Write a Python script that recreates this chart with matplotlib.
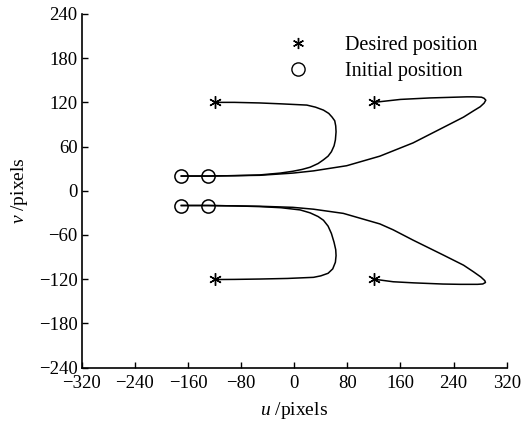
import matplotlib
matplotlib.use("Agg")
import matplotlib.pyplot as plt
from matplotlib.lines import Line2D

plt.rcParams["font.family"] = "Liberation Serif"
plt.rcParams["mathtext.fontset"] = "custom"
plt.rcParams["mathtext.rm"] = "Liberation Serif"
plt.rcParams["mathtext.it"] = "Liberation Serif:italic"
plt.rcParams["axes.unicode_minus"] = True

# posiciones deseadas e iniciales
deseada_u = [-120, 120, -120, 120]
deseada_v = [120, 120, -120, -120]
inicial_u = [-170, -130, -170, -130]
inicial_v = [20, 20, -20, -20]

# trayectorias
tray1_u = [-170, -130, -90, -52, -21, -2, 12, 24, 36, 44, 51, 56, 60, 62, 63, 62.5,
           61, 57, 52, 44, 32, 19, -20, -52, -90, -120]
tray1_v = [20, 20, 20.5, 21.5, 24, 26.5, 29, 32, 37, 42, 47, 53, 61, 69, 80, 88,
           95, 100, 105, 109.5, 113.5, 116.3, 118, 119.2, 120, 120]

tray2_u = [-170, -130, -52, -2, 29, 79, 129, 179, 229, 255, 270, 280, 286, 288.5,
           286, 282, 270, 260, 204, 160, 120]
tray2_v = [20, 20, 21, 24, 27, 34, 47, 65, 88, 100, 108.5, 114, 119, 123,
           125.5, 127, 127.5, 127.5, 126, 124, 120]

tray3_u = [-170, -130, -90, -52, -20, 9, 24, 36, 44, 51, 56, 60, 62.5, 63, 62, 58,
           51, 40, 29, -10, -52, -90, -120]
tray3_v = [-20, -20, -20.5, -21.5, -23, -26, -30, -35, -40, -48, -58, -70, -80, -88, -97, -106,
           -112, -115.5, -117.5, -119, -119.8, -120.3, -120.5]

tray4_u = [-170, -130, -52, -2, 29, 74, 129, 149, 179, 224, 255, 270, 281, 287, 288,
           284, 276, 250, 224, 180, 149, 120]
tray4_v = [-20, -20, -21, -22.5, -25, -30.7, -45, -53, -67, -87, -101, -110, -117, -122, -124.5,
           -126.5, -127, -127, -126.6, -125, -123.5, -120]

figura = plt.figure(figsize=(5.24, 4.23), dpi=100)
ejes = figura.add_axes([0.156, 0.131, 0.811, 0.836])

for tu, tv in [(tray1_u, tray1_v), (tray2_u, tray2_v), (tray3_u, tray3_v), (tray4_u, tray4_v)]:
    ejes.plot(tu, tv, "-", color="black", linewidth=1.1, solid_joinstyle="round")

estrella = (6, 2, 0)
ejes.plot(deseada_u, deseada_v, linestyle="none", marker=estrella, markersize=9,
          markeredgewidth=1.0, color="black", zorder=3)
ejes.plot(inicial_u, inicial_v, linestyle="none", marker="o", markersize=9.5,
          markerfacecolor="none", markeredgecolor="black", markeredgewidth=1.1, zorder=3)

ejes.set_xlim(-320, 320)
ejes.set_ylim(-240, 240)
ejes.set_xticks(range(-320, 321, 80))
ejes.set_yticks(range(-240, 241, 60))
ejes.spines["top"].set_visible(False)
ejes.spines["right"].set_visible(False)
ejes.spines["left"].set_linewidth(1.2)
ejes.spines["bottom"].set_linewidth(1.2)
ejes.tick_params(direction="in", length=4, width=1.0, labelsize=13.5)
ejes.tick_params(axis="x", pad=5)
ejes.tick_params(axis="y", pad=3)

ejes.set_xlabel("$u$ /pixels", fontsize=14, labelpad=6)
ejes.set_ylabel("$v$ /pixels", fontsize=14, labelpad=6)

manejadores = [
    Line2D([], [], linestyle="none", marker=estrella, markersize=8, markeredgewidth=1.0, color="black"),
    Line2D([], [], linestyle="none", marker="o", markersize=9.5, markerfacecolor="none",
           markeredgecolor="black", markeredgewidth=1.0),
]
ejes.legend(manejadores, ["Desired position", "Initial position"], loc="upper left",
            bbox_to_anchor=(0.4435, 0.962), frameon=False, fontsize=14.5, handletextpad=1.3,
            labelspacing=0.36, borderaxespad=0.0)

figura.savefig("out.png", dpi=100)
